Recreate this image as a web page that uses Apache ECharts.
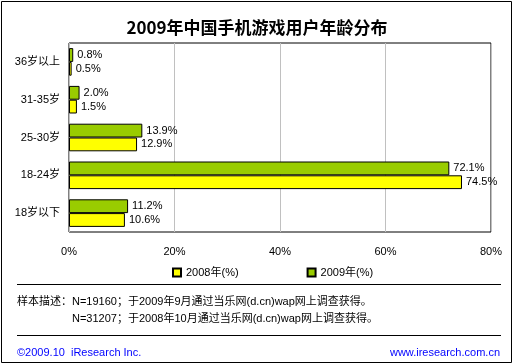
<!DOCTYPE html>
<html>
<head>
<meta charset="utf-8">
<script src="https://cdn.jsdelivr.net/npm/echarts@6/dist/echarts.min.js"></script>
<style>html,body{margin:0;padding:0;background:#fff}#c{width:514px;height:364px}</style>
</head>
<body>
<div id="c"></div>
<script>
var categories = ['18岁以下', '18-24岁', '25-30岁', '31-35岁', '36岁以上'];
var values2008 = [10.6, 74.5, 12.9, 1.5, 0.5];
var values2009 = [11.2, 72.1, 13.9, 2.0, 0.8];
var xTicks = [0, 20, 40, 60, 80];
var seriesNames = ['2008年(%)', '2009年(%)'];

var FONT = '"Liberation Sans", "Noto Sans CJK SC", sans-serif';
var chart = echarts.init(document.getElementById('c'), null, {renderer: 'canvas'});
var lbl = {
  show: true, position: 'right', distance: 4, color: '#000', fontSize: 11, fontFamily: FONT,
  formatter: function (p) { return p.value.toFixed(1) + '%'; }
};
chart.setOption({
  animation: false,
  backgroundColor: '#fff',
  title: {
    text: '2009年中国手机游戏用户年龄分布', left: 'center', top: 14,
    textStyle: {fontSize: 17, fontWeight: 'bold', color: '#000', fontFamily: '"Noto Sans CJK SC", sans-serif'}
  },
  legend: {
    data: seriesNames, left: 167, top: 262, itemWidth: 8, itemHeight: 8, itemGap: 68,
    icon: 'rect', textStyle: {fontSize: 11, color: '#000', fontFamily: FONT}
  },
  grid: {left: 69, right: 23, top: 43, bottom: 132, show: true, borderColor: '#000', borderWidth: 1},
  xAxis: {
    type: 'value', min: xTicks[0], max: xTicks[xTicks.length - 1], interval: 20,
    axisLine: {show: false}, axisTick: {show: false},
    splitLine: {lineStyle: {color: '#c0c0c0', width: 1}},
    axisLabel: {margin: 14, color: '#000', fontSize: 11, fontFamily: FONT, formatter: '{value}%'}
  },
  yAxis: {
    type: 'category', data: categories,
    axisLine: {show: false}, axisTick: {show: false},
    axisLabel: {margin: 9, color: '#000', fontSize: 11, fontFamily: FONT}
  },
  series: [
    {name: seriesNames[1], type: 'bar', data: values2009, barGap: '0%', barCategoryGap: '27%',
     itemStyle: {color: '#99cc00', borderColor: '#000', borderWidth: 1}, label: lbl},
    {name: seriesNames[0], type: 'bar', data: values2008, barGap: '0%', barCategoryGap: '27%',
     itemStyle: {color: '#ffff00', borderColor: '#000', borderWidth: 1}, label: lbl}
  ],
  graphic: [
    {type: 'rect', shape: {x: 1.5, y: 1.5, width: 510, height: 361}, style: {fill: 'none', stroke: '#000', lineWidth: 1}, silent: true},
    {type: 'line', shape: {x1: 17, y1: 284.5, x2: 501, y2: 284.5}, style: {stroke: '#000', lineWidth: 1}},
    {type: 'line', shape: {x1: 17, y1: 335.5, x2: 501, y2: 335.5}, style: {stroke: '#000', lineWidth: 1}},
    {type: 'text', x: 17, y: 302, style: {text: '样本描述：N=19160；于2009年9月通过当乐网(d.cn)wap网上调查获得。', font: '11px ' + FONT, fill: '#000', verticalAlign: 'middle'}},
    {type: 'text', x: 72, y: 319, style: {text: 'N=31207；于2008年10月通过当乐网(d.cn)wap网上调查获得。', font: '11px ' + FONT, fill: '#000', verticalAlign: 'middle'}},
    {type: 'text', x: 17, y: 353, style: {text: '©2009.10  iResearch Inc.', font: '11px ' + FONT, fill: '#0000ff', verticalAlign: 'middle'}},
    {type: 'text', x: 500, y: 353, style: {text: 'www.iresearch.com.cn', font: '11px ' + FONT, fill: '#0000ff', align: 'right', verticalAlign: 'middle'}}
  ]
});
</script>
</body>
</html>
